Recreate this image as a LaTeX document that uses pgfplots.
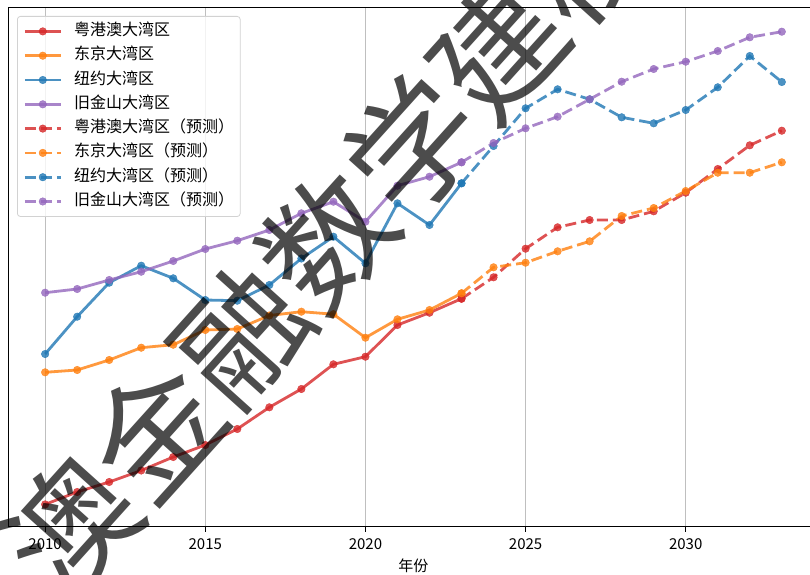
\documentclass[border=0pt]{standalone}
\usepackage{fontspec}
\setmainfont{Noto Sans CJK SC}
\usepackage{pgfplots}
\pgfplotsset{compat=1.18}
\definecolor{cR}{HTML}{D62728}
\definecolor{cO}{HTML}{FF7F0E}
\definecolor{cB}{HTML}{1F77B4}
\definecolor{cP}{HTML}{9467BD}
\pgfplotsset{
  hist/.style={#1, opacity=0.8, line width=2.8pt, mark=*, mark size=3.8pt, mark options={solid, line width=0.4pt}},
  fc/.style={#1, opacity=0.8, line width=2.8pt, dash pattern=on 11pt off 5pt, mark=*, mark size=3.8pt, mark options={solid, line width=0.4pt}},
}
\begin{document}
\begin{tikzpicture}
\begin{axis}[
  at={(0pt,0pt)}, anchor=south west,
  scale only axis, width=801.7pt, height=519.4pt,
  xmin=2008.85, xmax=2033.88, ymin=0, ymax=51.94,
  axis x line*=bottom, axis y line*=left,
  axis line style={line width=1.2pt, black},
  xtick={2010,2015,2020,2025,2030}, ytick=\empty,
  xticklabels={2010,2015,2020,2025,2030},
  tick align=outside, major tick length=5pt,
  tick style={line width=1pt, black},
  xmajorgrids, grid style={gray!50, line width=1pt},
  /pgf/number format/assume math mode=true,
  tick label style={font=\fontsize{15}{15}\selectfont},
  xticklabel style={yshift=-3pt},
  xlabel={年份}, xlabel style={font=\fontsize{15}{15}\selectfont, xshift=4.3pt, yshift=-3pt},
  legend cell align=left,
  legend image code/.code={\draw[#1, mark repeat=2, mark phase=2] plot coordinates {(0pt,0pt) (18pt,0pt) (36pt,0pt)};},
  legend style={at={(0,1)}, anchor=north west, xshift=8.7pt, yshift=-8.7pt,
    draw=gray!35, line width=0.8pt, rounded corners=3pt, fill=white, fill opacity=0.8, text opacity=1,
    font=\fontsize{16}{16}\selectfont, row sep=8.3pt, column sep=12pt,
    inner xsep=6pt, inner ysep=7pt,
    nodes={inner sep=0pt, text height=12pt, text depth=4pt, anchor=west}},
]
\addplot[hist=cR] coordinates {(2010,2.23)(2011,3.47)(2012,4.47)(2013,5.62)(2014,6.97)(2015,8.17)(2016,9.77)(2017,11.94)(2018,13.77)(2019,16.24)(2020,17.0)(2021,20.17)(2022,21.4)(2023,22.8)};
\addlegendentry{粤港澳大湾区}
\addplot[hist=cO] coordinates {(2010,15.44)(2011,15.67)(2012,16.67)(2013,17.9)(2014,18.2)(2015,19.67)(2016,19.77)(2017,21.12)(2018,21.5)(2019,21.25)(2020,18.9)(2021,20.74)(2022,21.67)(2023,23.34)};
\addlegendentry{东京大湾区}
\addplot[hist=cB] coordinates {(2010,17.27)(2011,21.0)(2012,24.4)(2013,26.1)(2014,24.84)(2015,22.67)(2016,22.6)(2017,24.17)(2018,26.82)(2019,29.0)(2020,26.34)(2021,32.34)(2022,30.17)(2023,34.34)};
\addlegendentry{纽约大湾区}
\addplot[hist=cP] coordinates {(2010,23.4)(2011,23.77)(2012,24.67)(2013,25.5)(2014,26.57)(2015,27.77)(2016,28.6)(2017,29.67)(2018,31.34)(2019,32.5)(2020,30.5)(2021,34.1)(2022,35.0)(2023,36.44)};
\addlegendentry{旧金山大湾区}
\addplot[fc=cR] coordinates {(2023,22.8)(2024,24.94)(2025,27.8)(2026,29.94)(2027,30.67)(2028,30.67)(2029,31.54)(2030,33.4)(2031,35.77)(2032,38.14)(2033,39.6)};
\addlegendentry{粤港澳大湾区（预测）}
\addplot[fc=cO] coordinates {(2023,23.34)(2024,25.94)(2025,26.4)(2026,27.54)(2027,28.54)(2028,31.07)(2029,31.87)(2030,33.57)(2031,35.4)(2032,35.4)(2033,36.44)};
\addlegendentry{东京大湾区（预测）}
\addplot[fc=cB] coordinates {(2023,34.34)(2024,38.07)(2025,41.84)(2026,43.74)(2027,42.74)(2028,40.94)(2029,40.34)(2030,41.67)(2031,43.94)(2032,47.07)(2033,44.47)};
\addlegendentry{纽约大湾区（预测）}
\addplot[fc=cP] coordinates {(2023,36.44)(2024,38.37)(2025,39.84)(2026,41.0)(2027,42.74)(2028,44.5)(2029,45.77)(2030,46.5)(2031,47.57)(2032,48.94)(2033,49.5)};
\addlegendentry{旧金山大湾区（预测）}
\end{axis}
\draw[line width=1.2pt, black] (0pt,519.4pt) -- (801.7pt,519.4pt);
\begin{scope}
\clip (-8.3pt,-47.3pt) rectangle (801.7pt,526.7pt);
\node[rotate=48, text=black, text opacity=0.7, font=\fontsize{128}{128}\selectfont, inner sep=0pt] at (318.7pt,286.2pt) {澳金融数学建模};
\end{scope}
\pgfresetboundingbox
\path[use as bounding box] (-8.3pt,-47.3pt) rectangle (801.7pt,526.7pt);
\end{tikzpicture}
\end{document}
